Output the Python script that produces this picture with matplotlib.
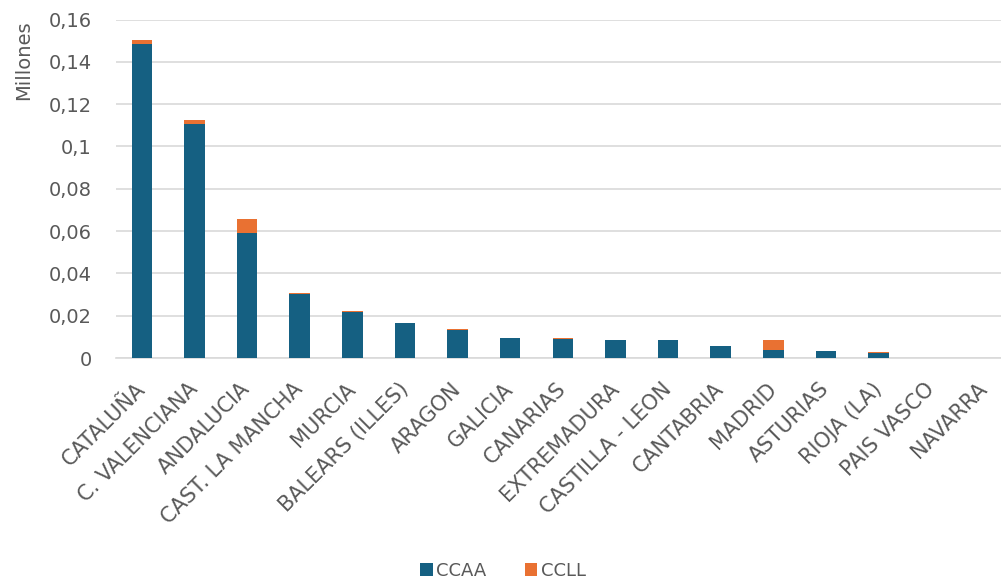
import matplotlib
matplotlib.use("Agg")
import matplotlib.pyplot as plt
import matplotlib.transforms as mtransforms
import numpy as np

# Data (millions)
regions = ["CATALUÑA", "C. VALENCIANA", "ANDALUCIA", "CAST. LA MANCHA", "MURCIA",
           "BALEARS (ILLES)", "ARAGON", "GALICIA", "CANARIAS", "EXTREMADURA",
           "CASTILLA - LEON", "CANTABRIA", "MADRID", "ASTURIAS", "RIOJA (LA)",
           "PAIS VASCO", "NAVARRA"]
ccaa = [0.1483, 0.1106, 0.0591, 0.0303, 0.0218, 0.0165, 0.0132, 0.0094, 0.0091,
        0.0084, 0.0084, 0.0056, 0.0037, 0.0034, 0.0022, 0.0, 0.0]
ccll = [0.0019, 0.0020, 0.0066, 0.0006, 0.0003, 0.0002, 0.0003, 0.0002, 0.0002,
        0.0002, 0.0002, 0.0003, 0.0049, 0.0001, 0.0006, 0.0, 0.0]
yticks = [0, 0.02, 0.04, 0.06, 0.08, 0.1, 0.12, 0.14, 0.16]
ytick_labels = ["0", "0,02", "0,04", "0,06", "0,08", "0,1", "0,12", "0,14", "0,16"]

BLUE = "#156082"
ORANGE = "#E97132"
TEXT = "#595959"
GRID = "#D9D9D9"

plt.rcParams["font.family"] = ["DejaVu Sans"]

W, H = 1001, 582
fig = plt.figure(figsize=(W / 100, H / 100), dpi=100)
left, right, top, bottom = 115.6, 1010.0, 19.5, 358.0
ax = fig.add_axes([left / W, 1 - bottom / H, (right - left) / W, (bottom - top) / H])

x = np.arange(len(regions))
ax.bar(x, ccaa, width=0.39, color=BLUE, label="CCAA", zorder=3)
ax.bar(x, ccll, width=0.39, bottom=ccaa, color=ORANGE, label="CCLL", zorder=3)

ax.set_xlim(-0.5, len(regions) - 0.5)
ax.set_ylim(0, 0.16)
ax.set_yticks(yticks)
ax.set_yticklabels(ytick_labels)
ax.yaxis.grid(True, color=GRID, linewidth=1.2, zorder=0)
ax.set_axisbelow(True)
for s in ["top", "right", "left"]:
    ax.spines[s].set_visible(False)
ax.spines["bottom"].set_color(GRID)
ax.spines["bottom"].set_linewidth(1.2)

ax.tick_params(axis="y", length=0, pad=17, labelsize=14, labelcolor=TEXT)
ax.tick_params(axis="x", length=0, pad=15, labelsize=15, labelcolor=TEXT)
ax.set_xticks(x)
ax.set_xticklabels(regions, rotation=45, ha="right", va="top", rotation_mode="anchor")
offset = mtransforms.ScaledTranslation(-7 / 100, 0, fig.dpi_scale_trans)
for lbl in ax.get_xticklabels():
    lbl.set_transform(lbl.get_transform() + offset)

fig.text(24 / W, 1 - 60 / H, "Millones", rotation=90, ha="center", va="center",
         fontsize=14, color=TEXT)

fig.legend(loc="center", bbox_to_anchor=(503 / W, 1 - 571 / H), ncol=2, frameon=False,
           fontsize=13, labelcolor=TEXT, handlelength=0.7, handleheight=0.7,
           handletextpad=0.2, columnspacing=2.1)

fig.savefig("out.png", dpi=100)
